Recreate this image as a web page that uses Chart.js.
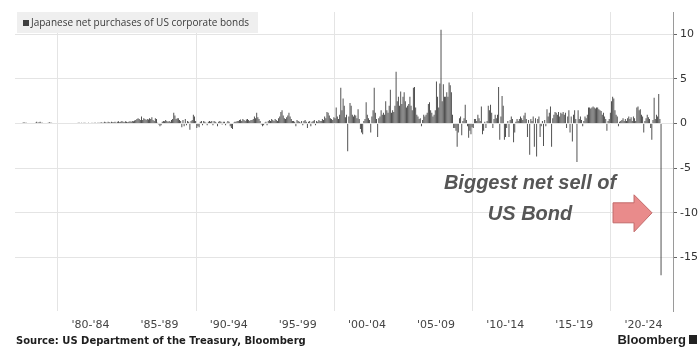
<!DOCTYPE html>
<html>
<head>
<meta charset="utf-8">
<script src="https://cdn.jsdelivr.net/npm/chart.js@4.4.1/dist/chart.umd.min.js"></script>
<style>
  html, body { margin: 0; padding: 0; background: #fff; }
  #wrap { position: relative; width: 699px; height: 347px; }
</style>
</head>
<body>
<div id="wrap"><canvas id="bonds"></canvas></div>
<script>
// monthly net purchases, USD bn, one row per year starting Jan 1977
const firstYear = 1977;
const netPurchases = [
  0, 0, 0, 0, 0, 0.1, 0.15, 0.1, 0.1, 0, 0, 0,                 // 1977
  0, 0, 0, 0, 0.1, 0.2, 0.1, 0.15, 0.2, 0.1, 0.1, 0,            // 1978
  0, 0, 0, 0.1, 0.15, 0.1, 0.1, 0, 0, 0, 0, 0,                  // 1979
  0, 0, 0, 0, 0, 0, 0, 0, 0, 0, 0, 0,                           // 1980
  0, 0, 0, 0, 0.05, 0.1, 0.1, 0.05, 0.1, 0.05, 0.1, 0.1,        // 1981
  0.05, 0.05, 0.1, 0.05, 0.05, 0.1, 0.05, 0.1, 0.1, 0.05, 0.1, 0.1,
  0.1, 0.15, 0.1, 0.1, 0.2, 0.15, 0.1, 0.2, 0.15, 0.1, 0.2, 0.15,
  0.15, 0.2, 0.1, 0.2, 0.25, 0.15, 0.2, 0.3, 0.2, 0.15, 0.25, 0.2,
  0.15, 0.2, 0.25, 0.2, 0.3, 0.25, 0.35, 0.4, 0.5, 0.6, 0.5, 0.4, // 1985
  0.8, 0.4, 0.6, 0.5, 0.4, 0.5, 0.45, 0.6, 0.5, 0.7, 0.4, 0.3,
  0.6, 0.5, 0.1, -0.1, -0.3, -0.2, 0.2, 0.3, 0.25, 0.4, 0.3, 0.2,
  0.3, 0.2, 0.4, 0.5, 1.2, 0.9, 0.5, 0.6, 0.6, 0.4, 0.3, -0.4,
  0.4, -0.3, 0.5, -0.2, 0.3, 0.2, -0.7, 0.3, 0.4, 1.0, 0.8, 0.3,
  -0.5, -0.3, -0.4, 0.2, 0.3, -0.2, 0.3, 0.2, 0.1, -0.2, 0.2, 0.3, // 1990
  0.2, 0.3, -0.2, 0.3, 0.2, 0.1, -0.3, 0.2, 0.3, 0.2, -0.1, 0.2,
  0.2, -0.2, 0.1, 0.3, 0.2, -0.3, -0.5, -0.6, 0.1, 0.2, 0.2, 0.3,
  0.3, 0.4, 0.45, 0.3, 0.5, 0.4, 0.3, 0.45, 0.5, 0.4, 0.3, 0.4,
  0.4, 0.5, 0.8, 0.6, 1.2, 0.7, 0.5, 0.3, -0.1, -0.3, -0.2, 0.1,
  0.2, -0.2, 0.3, 0.4, 0.3, 0.5, 0.4, 0.3, 0.5, 0.4, 0.3, 0.6,    // 1995
  0.8, 1.3, 1.5, 0.9, 0.6, 0.5, 0.7, 0.9, 1.2, 0.8, 0.5, 0.3,
  0.3, 0.2, -0.3, 0.4, 0.3, 0.2, 0.1, 0.3, -0.2, 0.3, 0.4, 0.2,
  -0.5, 0.2, 0.3, -0.3, 0.2, 0.3, 0.4, -0.2, 0.3, 0.2, 0.4, 0.3,
  0.3, 0.5, 0.4, 0.8, 0.6, 1.3, 1.2, 0.9, 0.6, 0.5, 0.4, 0.7,
  0.6, 1.8, 0.8, 0.5, 1.0, 4.0, 1.5, 2.8, 2.0, 0.7, 1.0, -3.1,    // 2000
  0.8, 2.3, 2.0, 1.0, 0.8, 1.0, 0.9, 0.6, 1.6, 0.5, -0.6, -1.0,
  -1.2, 0.3, 0.5, 2.4, 1.0, 0.6, 0.4, -1.0, 0.8, 1.5, 4.0, 1.2,
  0.5, -1.5, 0.6, 0.8, 1.5, 1.0, 1.2, 1.0, 2.5, 1.5, 1.2, 2.0,
  3.8, 1.2, 1.5, 1.3, 2.0, 5.8, 2.5, 3.0, 2.0, 3.6, 2.2, 3.0,
  3.5, 2.5, 1.8, 2.0, 2.2, 3.0, 2.0, 1.5, 4.0, 4.1, 1.8, 1.0,     // 2005
  0.8, 0.5, 0.6, -0.3, 0.4, 1.0, 0.8, 1.0, 1.2, 2.2, 2.4, 1.5,
  1.2, 0.8, 1.0, 1.5, 4.7, 3.0, 1.8, 4.5, 10.5, 2.5, 4.4, 3.0,
  3.0, 3.5, 3.0, 4.6, 4.3, 3.5, 1.0, -0.5, -0.5, -0.8, -2.6, -1.0,
  0.6, 0.8, -1.3, 0.3, 0.6, 2.1, 0.4, -0.3, -1.6, -0.8, -1.2, -0.4,
  -0.5, 0.5, 0.5, 0.3, 1.0, 0.6, 0.3, 1.9, -1.2, -0.8, 0.2, -0.5, // 2010
  0.3, 2.0, 1.5, 2.1, 1.2, -0.5, 0.5, 1.0, 0.6, 1.0, 4.1, -1.8,
  0.8, 3.1, 2.0, -1.8, -1.5, -0.5, 0.3, -1.5, 0.4, 0.8, 0.5, -2.1,
  -1.0, 0.2, 0.5, 0.3, 0.5, 0.8, 0.6, 0.4, 0.9, 1.2, 0.5, -1.5,
  0.4, -3.5, 0.5, 0.3, 0.8, -2.6, 0.6, -3.7, 0.5, 0.8, -1.5, -0.3,
  0.3, -2.5, 0.4, -0.3, 1.6, 0.8, 1.2, 1.9, -2.6, 0.6, 1.0, 1.3,  // 2015
  1.2, 1.0, 1.3, 0.8, 1.2, 1.1, 1.3, 1.0, 1.2, -0.5, 0.8, 1.5,
  -1.0, 0.8, -2.0, 1.0, 1.5, 0.5, -4.3, 1.5, 0.5, 0.8, 0.4, -0.3,
  0.3, 0.8, 0.6, 1.0, 1.8, 1.8, 1.7, 1.8, 1.9, 1.8, 1.7, 1.8,
  1.8, 1.6, 1.5, 1.4, 1.0, 1.2, 0.8, 0.5, -0.8, 0.3, 0.5, 1.2,
  2.5, 3.0, 2.8, 1.5, 1.0, 0.8, -0.3, 0.2, 0.3, 0.4, 0.6, 0.3,    // 2020
  0.5, 0.3, 0.6, 0.8, 0.5, 0.7, 0.3, 0.8, 0.6, 0.3, 1.8, 1.9,
  1.5, 1.6, 1.0, 0.8, -1.0, 0.3, 0.6, 1.0, 0.7, 0.5, -0.5, -1.8,
  0.4, 2.9, 0.5, 1.0, 0.8, 3.3, 0.5, -17.0
];

const periodLabels = ["'80-'84", "'85-'89", "'90-'94", "'95-'99", "'00-'04", "'05-'09", "'10-'14", "'15-'19", "'20-'24"];
const periodStarts = [1980, 1985, 1990, 1995, 2000, 2005, 2010, 2015, 2020];
const gridYears = [1980, 1990, 2000, 2010, 2020];
const yTicks = [-15, -10, -5, 0, 5, 10];

const legendText = 'Japanese net purchases of US corporate bonds';
const calloutLines = ['Biggest net sell of', 'US Bond'];
const calloutLevel = -10;
const sourceText = 'Source: US Department of the Treasury, Bloomberg';

const points = netPurchases.map((v, i) => ({ x: firstYear + (i + 0.5) / 12, y: v }));

// label ticks sit near the middle of each five-year block
const labelAt = new Map();
periodStarts.forEach((y, i) => labelAt.set((y + 2.35).toFixed(2), periodLabels[i]));
const xTickValues = gridYears.concat(periodStarts.map(y => y + 2.35)).sort((a, b) => a - b);

const GRID = '#e4e4e4';

const overlay = {
  id: 'overlay',
  afterDraw(chart) {
    const { ctx, chartArea, scales } = chart;
    ctx.save();

    // legend box
    ctx.fillStyle = '#efefef';
    ctx.fillRect(chartArea.left + 2, chartArea.top, 241, 21);
    ctx.fillStyle = '#3f3f3f';
    ctx.fillRect(chartArea.left + 8, chartArea.top + 8, 6, 6);
    ctx.font = '10px "Open Sans"';
    ctx.fillStyle = '#3a3a3a';
    ctx.textBaseline = 'middle';
    ctx.textAlign = 'left';
    ctx.fillText(legendText, chartArea.left + 16, chartArea.top + 11);

    // callout arrow pointing at the last bar
    const last = points[points.length - 1];
    const tipX = scales.x.getPixelForValue(last.x) - 9;
    const tipY = scales.y.getPixelForValue(calloutLevel);
    ctx.beginPath();
    ctx.moveTo(tipX, tipY);
    ctx.lineTo(tipX - 18, tipY - 18);
    ctx.lineTo(tipX - 18, tipY - 10);
    ctx.lineTo(tipX - 39, tipY - 10);
    ctx.lineTo(tipX - 39, tipY + 10);
    ctx.lineTo(tipX - 18, tipY + 10);
    ctx.lineTo(tipX - 18, tipY + 19);
    ctx.closePath();
    ctx.fillStyle = '#e98b8b';
    ctx.fill();
    ctx.strokeStyle = '#c26a6a';
    ctx.lineWidth = 1;
    ctx.stroke();

    ctx.font = 'italic bold 20px "Liberation Sans"';
    ctx.textAlign = 'center';
    ctx.textBaseline = 'alphabetic';
    ctx.fillStyle = '#565656';
    ctx.fillText(calloutLines[0], tipX - 122, tipY - 24);
    ctx.fillText(calloutLines[1], tipX - 122, tipY + 7);

    // footer
    ctx.textBaseline = 'middle';
    ctx.textAlign = 'left';
    ctx.fillStyle = '#1e1e1e';
    ctx.font = 'bold 10px "DejaVu Sans"';
    ctx.fillText(sourceText, 16, 341);
    ctx.font = 'bold 13px "Liberation Sans"';
    ctx.textAlign = 'right';
    ctx.fillText('Bloomberg', 686, 340);
    ctx.fillStyle = '#222';
    ctx.fillRect(689, 335, 8, 9);
    ctx.restore();
  }
};

new Chart(document.getElementById('bonds'), {
  type: 'bar',
  data: {
    datasets: [{
      data: points,
      backgroundColor: '#444',
      borderWidth: 0,
      barPercentage: 0.8,
      categoryPercentage: 1
    }]
  },
  options: {
    responsive: true,
    maintainAspectRatio: false,
    animation: false,
    events: [],
    layout: { padding: { left: 15, top: 12, right: 0, bottom: 11 } },
    plugins: { legend: { display: false }, tooltip: { enabled: false } },
    scales: {
      x: {
        type: 'linear',
        offset: false,
        min: 1976.89,
        max: 2024.49,
        border: { display: false },
        afterBuildTicks: (scale) => { scale.ticks = xTickValues.map(v => ({ value: v })); },
        afterFit: (scale) => { scale.height = 25; },
        grid: {
          offset: false,
          drawTicks: false,
          color: (c) => (c.tick && gridYears.includes(c.tick.value)) ? GRID : 'rgba(0,0,0,0)'
        },
        ticks: {
          autoSkip: false,
          maxRotation: 0,
          padding: 8,
          color: '#444',
          font: { family: 'DejaVu Sans', size: 11 },
          callback: (v) => labelAt.get(Number(v).toFixed(2)) || ''
        }
      },
      y: {
        position: 'right',
        min: -21,
        max: 12.5,
        border: { display: true, color: '#9a9a9a' },
        afterBuildTicks: (scale) => { scale.ticks = yTicks.map(v => ({ value: v })); },
        afterFit: (scale) => { scale.width = 26; },
        grid: { color: GRID, drawTicks: true, tickLength: 4, tickColor: '#666' },
        ticks: {
          padding: 3,
          color: '#333',
          font: { family: 'DejaVu Sans', size: 11 }
        }
      }
    }
  },
  plugins: [overlay]
});
</script>
</body>
</html>
